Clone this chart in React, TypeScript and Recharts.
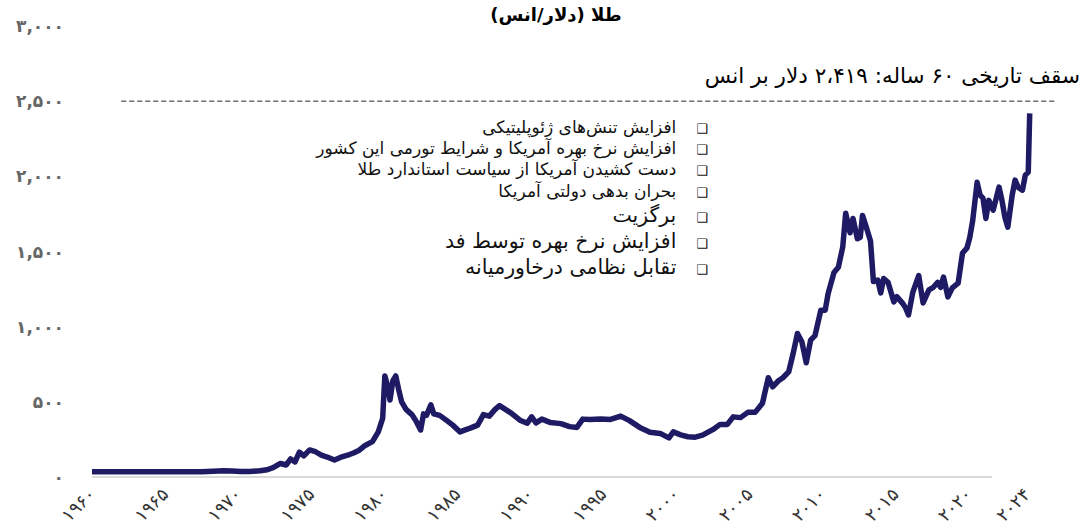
import { Line, LineChart, ReferenceLine, XAxis, YAxis } from "recharts";

const years = [
  1960, 1962, 1964, 1966, 1967.5, 1968.3, 1969, 1969.6, 1970.2, 1970.8, 1971.5, 1972, 1972.4, 1972.9,
  1973.3, 1973.6, 1973.9, 1974.2, 1974.5, 1974.9, 1975.3, 1975.7, 1976.1, 1976.6, 1977, 1977.5,
  1977.9, 1978.3, 1978.7, 1979.2, 1979.6, 1979.9, 1980.05, 1980.25, 1980.4, 1980.6, 1980.8, 1981,
  1981.2, 1981.5, 1981.9, 1982.2, 1982.5, 1982.7, 1982.9, 1983.2, 1983.4, 1983.8, 1984.3, 1984.7,
  1985.2, 1985.6, 1985.9, 1986.4, 1986.8, 1987.2, 1987.6, 1987.9, 1988.3, 1988.7, 1989.3, 1989.8,
  1990.1, 1990.4, 1990.8, 1991.4, 1992.1, 1992.7, 1993.2, 1993.6, 1994.1, 1994.8, 1995.5, 1996.2,
  1996.8, 1997.5, 1998.2, 1998.9, 1999.5, 1999.8, 2000.3, 2000.8, 2001.3, 2001.8, 2002.5, 2003,
  2003.5, 2003.9, 2004.4, 2004.9, 2005.4, 2005.9, 2006.3, 2006.6, 2007, 2007.3, 2007.7, 2008,
  2008.3, 2008.6, 2008.9, 2009.2, 2009.5, 2009.9, 2010.2, 2010.4, 2010.8, 2011.1, 2011.4, 2011.6,
  2011.9, 2012.1, 2012.4, 2012.6, 2012.75, 2013, 2013.3, 2013.5, 2013.8, 2014, 2014.2, 2014.5,
  2014.9, 2015.1, 2015.5, 2015.7, 2015.9, 2016.2, 2016.6, 2016.9, 2017.3, 2017.6, 2017.9, 2018.1,
  2018.3, 2018.6, 2018.9, 2019.3, 2019.6, 2019.9, 2020.1, 2020.3, 2020.6, 2020.8, 2021, 2021.2,
  2021.4, 2021.7, 2022.1, 2022.3, 2022.5, 2022.7, 2023, 2023.2, 2023.4, 2023.7, 2023.9, 2024.1,
  2024.2,
];

const prices = [
  35, 35, 35, 35, 35, 39, 42, 40, 36, 37, 41, 48, 62, 90,
  80, 120, 100, 165, 140, 180, 168, 145, 133, 113, 130, 145,
  160, 178, 210, 235, 300, 390, 672, 600, 512, 640, 672, 580,
  500, 450, 415, 370, 313, 420, 410, 480, 420, 410, 375, 345,
  300, 315, 325, 345, 415, 405, 450, 475, 450, 425, 378, 358,
  400, 360, 385, 362, 355, 335, 330, 385, 382, 385, 383, 405,
  375, 330, 298, 290, 260, 300, 280, 268, 265, 278, 315, 350,
  350, 400, 395, 430, 430, 490, 660, 600, 640, 660, 700, 820,
  955, 900, 760, 910, 940, 1110, 1110, 1220, 1360, 1395, 1530, 1755,
  1625, 1720, 1585, 1595, 1740, 1665, 1570, 1300, 1310, 1225, 1320, 1295,
  1165, 1200, 1155, 1125, 1078, 1230, 1340, 1158, 1245, 1262, 1295, 1262,
  1330, 1198, 1258, 1290, 1490, 1522, 1595, 1708, 1960, 1875, 1855, 1720,
  1840, 1775, 1928, 1840, 1728, 1662, 1875, 1975, 1928, 1908, 2008, 2028,
  2419,
];

const xTicks = [1960, 1965, 1970, 1975, 1980, 1985, 1990, 1995, 2000, 2005, 2010, 2015, 2020, 2024];
const yTicks = [0, 500, 1000, 1500, 2000, 2500, 3000];

const notes = [
  "افزایش تنش‌های ژئوپلیتیکی",
  "افزایش نرخ بهره آمریکا و شرایط تورمی این کشور",
  "دست کشیدن آمریکا از سیاست استاندارد طلا",
  "بحران بدهی دولتی آمریکا",
  "برگزیت",
  "افزایش نرخ بهره توسط فد",
  "تقابل نظامی درخاورمیانه",
];

const data = years.map((year, i) => ({ year, price: prices[i] }));

const faFont = "'DejaVu Sans', 'Noto Sans', sans-serif";
const faDigits = "۰۱۲۳۴۵۶۷۸۹";
const toFa = (s: string) => s.replace(/\d/g, (d) => faDigits[Number(d)]);

const noteTop = [128, 149, 170, 192, 216, 242, 268];
const noteSize = [17, 17, 17, 17, 20.5, 20.5, 20.5];

function XTick({ x, y, payload }: any) {
  return (
    <g transform={`translate(${x},${y})`}>
      <text
        transform="rotate(-45)"
        textAnchor="end"
        dy="0.35em"
        fontSize={18}
        fill="#333"
        fontFamily={faFont}
      >
        {toFa(String(payload.value))}
      </text>
    </g>
  );
}

export default function App() {
  return (
    <div style={{ position: "absolute", left: 0, top: 0, width: 1087, height: 528, background: "#fff" }}>
      <LineChart width={1087} height={528} data={data} margin={{ top: 26, right: 31, bottom: 6, left: 0 }}>
        <XAxis
          dataKey="year"
          type="number"
          domain={[1960, 2026]}
          ticks={xTicks}
          axisLine={false}
          tickLine={false}
          tickSize={0}
          tickMargin={14}
          height={45}
          tick={<XTick />}
          interval={0}
        />
        <YAxis
          domain={[0, 3000]}
          ticks={yTicks}
          width={92}
          axisLine={false}
          tickLine={false}
          tickMargin={22}
          tickFormatter={(v: number) => toFa(v.toLocaleString("en-US"))}
          tick={{ fontSize: 17, fill: "#666", fontFamily: faFont, fontWeight: 600 }}
        />
        <ReferenceLine
          segment={[{ x: 1960, y: 0 }, { x: 2021.6, y: 0 }]}
          stroke="#d9d9d9"
          strokeWidth={2}
          ifOverflow="visible"
        />
        <ReferenceLine
          segment={[{ x: 1962, y: 2500 }, { x: 2026, y: 2500 }]}
          stroke="#222"
          strokeWidth={1}
          strokeDasharray="5 3"
          ifOverflow="visible"
        />
        <Line
          type="linear"
          dataKey="price"
          stroke="#1e1a64"
          strokeWidth={5.5}
          strokeLinejoin="round"
          dot={false}
          isAnimationActive={false}
        />
      </LineChart>

      <div
        style={{
          position: "absolute",
          left: 0,
          width: 1112,
          top: 4,
          textAlign: "center",
          fontFamily: faFont,
          fontWeight: 700,
          fontSize: 18,
          direction: "rtl",
        }}
      >
        طلا (دلار/انس)
      </div>

      <div
        style={{
          position: "absolute",
          right: 7,
          top: 63,
          fontFamily: faFont,
          fontSize: 21.5,
          direction: "rtl",
          whiteSpace: "nowrap",
        }}
      >
        {"سقف تاریخی ۶۰ ساله: ۲،۴۱۹ دلار بر انس"}
      </div>

      {notes.map((n, i) => (
        <div
          key={n}
          style={{
            position: "absolute",
            right: 1087 - 708,
            top: noteTop[i] - noteSize[i] * 0.7,
            fontFamily: faFont,
            fontSize: noteSize[i],
            lineHeight: 1.3,
            direction: "rtl",
            whiteSpace: "nowrap",
            color: "#111",
          }}
        >
          <span style={{ fontSize: 13, marginLeft: 20 }}>❑</span>
          {n}
        </div>
      ))}
    </div>
  );
}
